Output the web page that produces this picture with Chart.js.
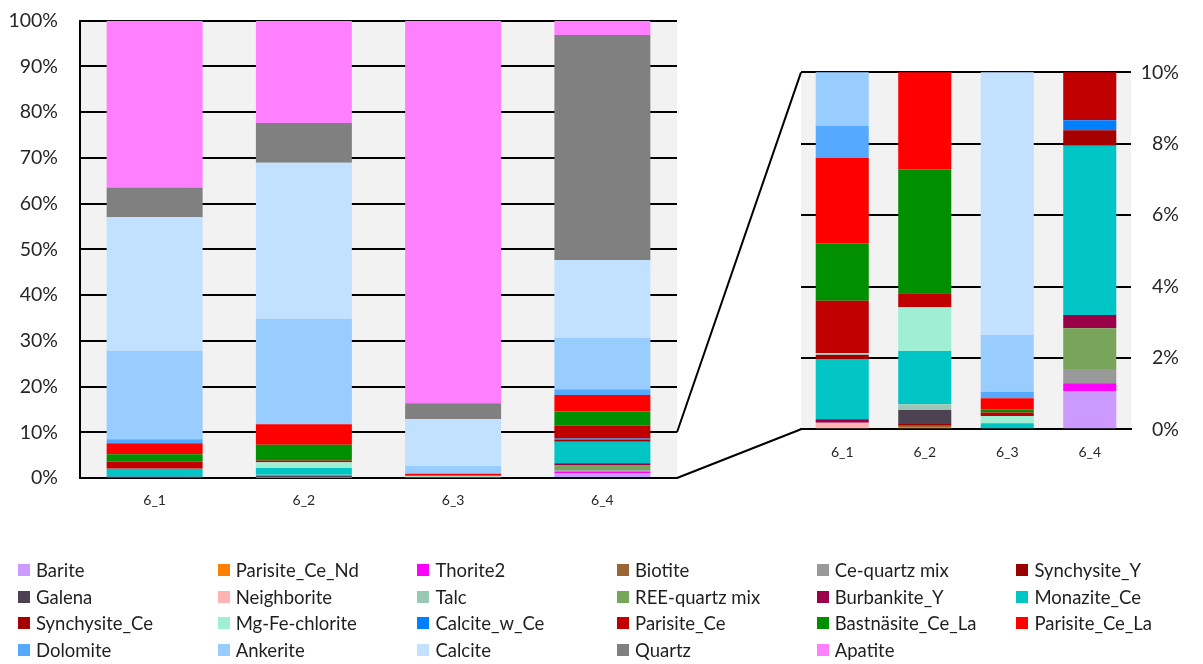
<!DOCTYPE html>
<html>
<head>
<meta charset="utf-8">
<script src="https://cdn.jsdelivr.net/npm/chart.js@4.4.1/dist/chart.umd.min.js"></script>
<style>
  html, body { margin: 0; padding: 0; background: #fff; }
  #wrap { position: relative; width: 1203px; height: 664px; overflow: hidden; font-family: Lato, sans-serif; }
  #main { position: absolute; left: 0; top: 0; }
  #zoom { position: absolute; left: 780px; top: 0; }
  #links { position: absolute; left: 0; top: 0; pointer-events: none; }
  #legend { position: absolute; left: 18px; top: 557px; display: grid;
            grid-template-columns: repeat(6, 199.7px); grid-auto-rows: 26.6px;
            font-size: 18.5px; color: #1f1f1f; }
  .item { display: flex; align-items: center; white-space: nowrap; }
  .sw { width: 12px; height: 12px; margin-right: 6px; flex: none; }
</style>
</head>
<body>
<div id="wrap">
  <canvas id="main" width="690" height="520"></canvas>
  <canvas id="zoom" width="423" height="470"></canvas>
  <canvas id="links" width="1203" height="664"></canvas>
  <div id="legend"></div>
</div>
<script>
// Samples
const samples = ['6_1', '6_2', '6_3', '6_4'];

// Modal mineralogy, area % per sample (6_1, 6_2, 6_3, 6_4)
const barite         = [0,    0,    0,     1.07];
const parisiteCeNd   = [0,    0.04, 0,     0];
const thorite2       = [0,    0,    0,     0.22];
const biotite        = [0,    0.06, 0,     0];
const ceQuartzMix    = [0,    0,    0,     0.40];
const synchysiteY    = [0,    0.05, 0,     0];
const galena         = [0,    0.39, 0,     0];
const neighborite    = [0.18, 0,    0,     0];
const talc           = [0,    0.16, 0,     0];
const reeQuartzMix   = [0,    0,    0,     1.14];
const burbankiteY    = [0.10, 0,    0,     0.37];
const monaziteCe     = [1.69, 1.49, 0.17,  4.74];
const synchysiteCe   = [0.12, 0,    0,     0.44];
const mgFeChlorite   = [0.05, 1.23, 0.20,  0];
const calciteWCe     = [0,    0,    0,     0.28];
const parisiteCe     = [1.46, 0.39, 0.10,  2.78];
const bastnasiteCeLa = [1.61, 3.47, 0.09,  3.08];
const parisiteCeLa   = [2.39, 4.46, 0.31,  3.63];
const dolomite       = [0.90, 0.10, 0.18,  1.25];
const ankerite       = [19.3, 23.0, 1.59, 11.28];
const calcite        = [29.2, 34.1, 10.19, 17.0];
const quartz         = [6.5,  8.7,  3.5,  49.2];
const apatite        = [36.5, 22.36, 83.67, 3.12];

// Stacking order, bottom to top (also the legend order)
const mineralNames = [
  'Barite', 'Parisite_Ce_Nd', 'Thorite2', 'Biotite', 'Ce-quartz mix', 'Synchysite_Y',
  'Galena', 'Neighborite', 'Talc', 'REE-quartz mix', 'Burbankite_Y', 'Monazite_Ce',
  'Synchysite_Ce', 'Mg-Fe-chlorite', 'Calcite_w_Ce', 'Parisite_Ce', 'Bastnäsite_Ce_La', 'Parisite_Ce_La',
  'Dolomite', 'Ankerite', 'Calcite', 'Quartz', 'Apatite'
];
const mineralValues = [
  barite, parisiteCeNd, thorite2, biotite, ceQuartzMix, synchysiteY,
  galena, neighborite, talc, reeQuartzMix, burbankiteY, monaziteCe,
  synchysiteCe, mgFeChlorite, calciteWCe, parisiteCe, bastnasiteCeLa, parisiteCeLa,
  dolomite, ankerite, calcite, quartz, apatite
];
const mineralColours = [
  '#cc99ff', '#ff8000', '#ff00ff', '#996633', '#999999', '#990000',
  '#4d4252', '#ffb3b3', '#99c8b6', '#77a55a', '#990048', '#00c5c5',
  '#a50000', '#a0eed4', '#0080ff', '#c00000', '#008f00', '#ff0000',
  '#55aaff', '#99ccff', '#c2e0ff', '#808080', '#ff80ff'
];

// Zoom window on the full-height chart, and axis tick steps
const mainTickStep = 10;
const zoomMax = 10;
const zoomTickStep = 2;

Chart.defaults.font.family = 'Lato, sans-serif';
Chart.defaults.color = '#262626';

function buildDatasets() {
  return mineralNames.map((name, i) => ({
    label: name,
    data: mineralValues[i],
    backgroundColor: mineralColours[i],
    borderWidth: 0,
    categoryPercentage: 0.643,
    barPercentage: 1.0
  }));
}

// Light grey plot area
const plotBg = {
  id: 'plotBg',
  beforeDraw(chart) {
    const { ctx, chartArea: a } = chart;
    ctx.save();
    ctx.fillStyle = '#f2f2f2';
    ctx.fillRect(a.left, a.top, a.right - a.left, a.bottom - a.top);
    ctx.restore();
  }
};

// Keep the plot area edges where the layout padding puts them
function fixedValueAxis(width) {
  return function (s) {
    s.width = width;
    s.paddingTop = 0;
    s.paddingBottom = 0;
  };
}

const mainChart = new Chart(document.getElementById('main'), {
  type: 'bar',
  data: { labels: samples, datasets: buildDatasets() },
  plugins: [plotBg],
  options: {
    responsive: false,
    animation: false,
    devicePixelRatio: 1,
    layout: { padding: { top: 20.7, right: 13, left: 0, bottom: 0 } },
    plugins: { legend: { display: false }, tooltip: { enabled: false } },
    scales: {
      x: {
        stacked: true,
        grid: { display: false, drawTicks: false },
        border: { color: '#000', width: 2 },
        ticks: { font: { size: 14 }, padding: 14 },
        afterFit(s) { s.height = 42; }
      },
      y: {
        stacked: true,
        min: 0, max: 100,
        ticks: { stepSize: mainTickStep, callback: v => v + '%', font: { size: 19.5 }, padding: 22 },
        grid: { color: '#000', lineWidth: 2, drawTicks: false },
        border: { color: '#000', width: 2 },
        afterFit: fixedValueAxis(80)
      }
    }
  }
});

const zoomChart = new Chart(document.getElementById('zoom'), {
  type: 'bar',
  data: { labels: samples, datasets: buildDatasets() },
  plugins: [plotBg],
  options: {
    responsive: false,
    animation: false,
    devicePixelRatio: 1,
    layout: { padding: { top: 72.3, right: 24, left: 21, bottom: 0 } },
    plugins: { legend: { display: false }, tooltip: { enabled: false } },
    scales: {
      x: {
        stacked: true,
        grid: { display: false, drawTicks: false },
        border: { color: '#000', width: 2 },
        ticks: { font: { size: 14 }, padding: 15 },
        afterFit(s) { s.height = 40.7; }
      },
      y: {
        stacked: true,
        position: 'right',
        min: 0, max: zoomMax,
        ticks: { stepSize: zoomTickStep, callback: v => v + '%', font: { size: 19.5 }, padding: 8, crossAlign: 'far' },
        grid: { color: '#000', lineWidth: 2, drawTicks: false },
        border: { display: false },
        afterFit: fixedValueAxis(48)
      }
    }
  }
});

// Lines joining the 0–10 % band of the full chart to the zoomed panel
(function drawLinks() {
  const zoomLeft = 780;
  const ctx = document.getElementById('links').getContext('2d');
  const mx = mainChart.chartArea.right;
  const zx = zoomLeft + zoomChart.chartArea.left;
  ctx.strokeStyle = '#000';
  ctx.lineWidth = 2;
  ctx.lineJoin = 'round';
  ctx.beginPath();
  ctx.moveTo(mx, mainChart.scales.y.getPixelForValue(zoomMax));
  ctx.lineTo(zx, zoomChart.scales.y.getPixelForValue(zoomMax));
  ctx.moveTo(mx, mainChart.scales.y.getPixelForValue(0));
  ctx.lineTo(zx, zoomChart.scales.y.getPixelForValue(0));
  ctx.stroke();
})();

// Shared legend, six columns
(function buildLegend() {
  const box = document.getElementById('legend');
  mineralNames.forEach((name, i) => {
    const item = document.createElement('div');
    item.className = 'item';
    const sw = document.createElement('span');
    sw.className = 'sw';
    sw.style.background = mineralColours[i];
    const tx = document.createElement('span');
    tx.textContent = name;
    item.appendChild(sw);
    item.appendChild(tx);
    box.appendChild(item);
  });
})();
</script>
</body>
</html>
